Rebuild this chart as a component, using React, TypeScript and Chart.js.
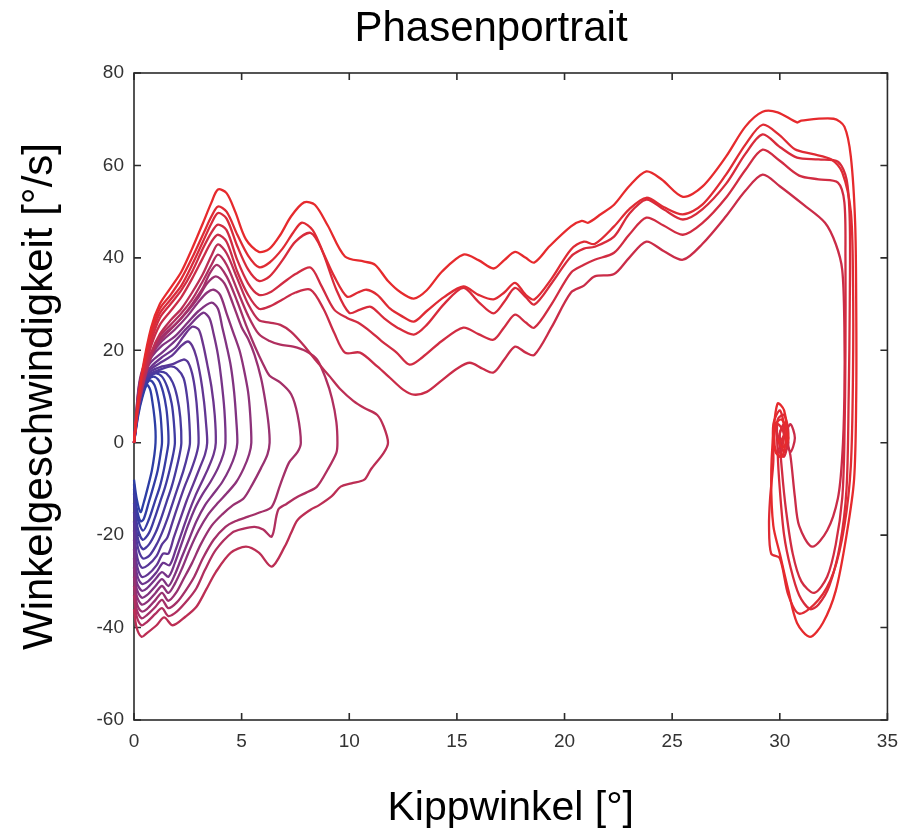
import { useEffect, useRef } from 'react';
import { Chart, registerables } from 'chart.js';

Chart.register(...registerables);

type Pt = [number, number];

const chartTitle = 'Phasenportrait';
const xAxisLabel = 'Kippwinkel [°]';
const yAxisLabel = 'Winkelgeschwindigkeit [°/s]';
const xTickValues = [0, 5, 10, 15, 20, 25, 30, 35];
const yTickValues = [-60, -40, -20, 0, 20, 40, 60, 80];

// Large swings reaching ~33°, settling near 30°
const swingA: Pt[] = [
  [0, 0], [0.15, 7.5], [0.4, 16], [0.8, 25], [1.2, 30], [1.7, 33.5], [2.2, 37], [2.7, 42], [3.2, 47.5], [3.6, 52], [3.9, 54.8],
  [4.3, 54], [4.7, 50], [5.2, 44], [5.8, 41.3], [6.3, 42], [6.8, 45], [7.3, 49], [7.9, 52], [8.4, 51.5], [9.0, 47], [9.8, 40.3],
  [10.7, 39.2], [11.2, 38.5], [11.8, 35], [12.4, 32.5], [13.0, 31.2], [13.6, 33], [14.3, 37], [15.3, 40.7], [16.0, 39.5],
  [16.7, 37.7], [17.2, 39.5], [17.7, 41.3], [18.2, 40], [18.6, 39], [19.3, 42.5], [20.3, 46.8], [20.8, 48], [21.1, 47.6],
  [21.7, 49.5], [22.3, 51.5], [23.0, 55.5], [23.8, 58.7], [24.5, 57], [25.5, 53.2], [26.4, 55.4], [27.5, 61.9], [28.4, 68.4],
  [29.2, 71.6], [29.9, 71.5], [30.8, 69.3], [31.0, 69.7], [32.5, 70.1], [33.0, 68.4], [33.3, 61.9], [33.5, 47.6], [33.55, 30],
  [33.55, 10], [33.45, -8], [33.1, -20], [32.6, -32], [32.0, -39], [31.4, -42], [30.8, -39], [30.4, -32], [30.0, -24],
  [29.7, -18], [29.6, -8], [29.7, 2], [29.9, 8.5], [30.2, 7], [30.3, 2], [30.1, -3], [29.8, -2], [29.8, 4], [30.1, 5],
  [30.4, 1], [30.1, -1], [29.9, 1],
];
const swingB: Pt[] = [
  [0, 0], [0.15, 7.3], [0.4, 15.5], [0.8, 24], [1.2, 29], [1.7, 32], [2.2, 35.5], [2.7, 40], [3.2, 45], [3.6, 49], [3.9, 51.1],
  [4.3, 50], [4.8, 45], [5.3, 40.5], [5.8, 38], [6.3, 39], [6.9, 42], [7.4, 45.5], [7.8, 47.6], [8.3, 46], [8.8, 41], [9.3, 36],
  [9.9, 31.6], [10.4, 32.5], [10.8, 33.1], [11.3, 32], [11.9, 29], [12.4, 27.5], [13.0, 26.2], [13.6, 28.5], [14.4, 31.5],
  [15.3, 33.8], [16.0, 32], [16.7, 31], [17.2, 32.5], [17.7, 34.6], [18.2, 32], [18.6, 31], [19.4, 35.5], [20.3, 41.8],
  [20.9, 43.5], [21.4, 43], [22.3, 46.8], [23.0, 50.5], [23.8, 53], [24.6, 51], [25.5, 49.4], [26.4, 51.5], [27.5, 58],
  [28.4, 64.5], [29.2, 68.8], [30.0, 66.5], [30.7, 63.5], [31.5, 62.5], [32.4, 61.3], [32.9, 58.5], [33.3, 50], [33.4, 35],
  [33.4, 15], [33.3, -5], [33.0, -18], [32.5, -28], [31.8, -34], [30.9, -37], [30.4, -33], [30.0, -25], [29.6, -24],
  [29.5, -18], [29.55, -12], [29.7, -4], [29.7, 4], [30.0, 7], [30.2, 3], [30.0, -3], [29.7, 0], [29.9, 4], [30.2, 2], [30.0, 0],
];
const swingC: Pt[] = [
  [0, 0], [0.15, 7.1], [0.4, 15], [0.8, 23], [1.2, 28], [1.7, 31], [2.2, 34], [2.7, 38.5], [3.2, 43.5], [3.6, 47.5], [3.9, 49.7],
  [4.3, 48.5], [4.8, 42.5], [5.3, 37.5], [5.8, 35], [6.3, 36], [6.9, 39.5], [7.5, 43.5], [8.2, 45.4], [8.7, 42], [9.4, 33.1],
  [10.0, 28.1], [10.5, 28.8], [11.0, 29.4], [11.6, 27], [12.2, 25], [13.0, 23.4], [13.6, 25.5], [14.4, 30], [15.3, 33.5],
  [16.0, 30.5], [16.7, 28], [17.2, 30.5], [17.7, 33.5], [18.2, 31.5], [18.6, 29.9], [19.4, 34.5], [20.3, 40.3], [20.9, 42],
  [21.4, 42.4], [22.3, 44.6], [23.0, 49.5], [23.8, 52.6], [24.6, 50.5], [25.5, 48.3], [26.4, 50.5], [27.5, 56], [28.4, 62.5],
  [29.2, 66.7], [30.0, 64], [30.8, 61.7], [31.8, 61.3], [32.7, 60.8], [33.1, 57], [33.25, 48], [33.25, 30], [33.2, 10],
  [33.1, -10], [32.8, -22], [32.3, -31], [31.8, -35], [31.4, -36], [30.9, -33], [30.5, -27], [30.2, -20], [30.0, -10],
  [29.9, -2], [29.9, 5], [30.2, 6], [30.4, 2], [30.2, -3], [29.9, -1], [30.1, 3], [30.3, 0],
];
const swingD: Pt[] = [
  [0, 0], [0.15, 7], [0.4, 14.5], [0.8, 22], [1.2, 27], [1.7, 30], [2.2, 33], [2.7, 37], [3.2, 42], [3.6, 45.5], [3.9, 47.2],
  [4.3, 46], [4.8, 39.5], [5.3, 34.5], [5.8, 32], [6.3, 32.5], [6.9, 34.5], [7.5, 36.5], [8.2, 37.9], [8.7, 34], [9.3, 28.8],
  [9.9, 27], [10.4, 26], [11.0, 24], [11.5, 22], [12.2, 19.5], [12.8, 16.9], [13.4, 18.5], [14.3, 22], [15.3, 24.9],
  [16.0, 23.5], [16.7, 22.3], [17.2, 25], [17.7, 27.7], [18.2, 26], [18.6, 24.9], [19.4, 30], [20.3, 36.8], [20.9, 38.5],
  [21.4, 39.6], [22.3, 41.1], [23.0, 45], [23.8, 48.7], [24.6, 47], [25.5, 45], [26.4, 47.5], [27.5, 53], [28.4, 59],
  [29.2, 63.4], [30.0, 61], [30.9, 57.8], [31.8, 57], [32.7, 56.3], [33.0, 52], [33.05, 40], [33.05, 20], [33.0, 0],
  [32.9, -12], [32.6, -22], [32.2, -29], [31.6, -32.5], [31.0, -30], [30.6, -24], [30.3, -15], [30.1, -6], [30.0, 2],
  [30.2, 4], [30.4, 0], [30.2, -2], [30.0, 1],
];
const swingE: Pt[] = [
  [0, 0], [0.15, 6.8], [0.4, 14], [0.8, 21], [1.2, 25.5], [1.7, 28.5], [2.2, 31.5], [2.7, 35.5], [3.2, 40], [3.6, 43.5], [3.9, 45],
  [4.3, 43.5], [4.8, 37], [5.3, 32], [5.8, 29], [6.3, 29.5], [6.9, 31], [7.5, 32.5], [8.2, 33.1], [8.8, 29], [9.3, 23.8],
  [9.8, 19.5], [10.5, 19.5], [11.3, 16.5], [11.9, 14], [12.5, 11.5], [13.0, 10.4], [13.6, 11], [14.3, 13.5], [15.0, 16],
  [15.6, 17.3], [16.2, 16], [16.7, 15.2], [17.2, 18], [17.7, 20.8], [18.2, 19.5], [18.6, 19], [19.4, 25], [20.3, 32.5],
  [20.9, 34], [21.4, 36], [22.3, 36.5], [23.0, 40], [23.8, 43.5], [24.6, 41.5], [25.5, 39.6], [26.4, 43], [27.5, 49],
  [28.4, 54.5], [29.2, 58], [30.0, 55.5], [31.1, 51.5], [32.1, 47.6], [32.6, 43], [32.9, 37.4], [33.0, 25], [33.0, 10],
  [32.9, -3], [32.7, -12], [32.2, -19], [31.5, -22.5], [30.9, -18], [30.7, -11.7], [30.5, -3], [30.3, 2], [30.5, 4],
  [30.7, 1], [30.5, -2], [30.3, 0],
];

// Small swings that return to 0°
const loop01: Pt[] = [
  [0, 0], [0.2, 6], [0.4, 10], [0.6, 12.5], [0.75, 11.5], [0.85, 9], [0.95, 5.5], [1.0, 2.5], [1.0, 0],
  [0.95, -2.5], [0.83, -6], [0.65, -9.5], [0.45, -13], [0.3, -15], [0.12, -12], [0, -8],
];
const loop02: Pt[] = [
  [0, 0], [0.2, 6.5], [0.4, 10.5], [0.6, 12.8], [0.75, 13.5], [0.95, 12.5], [1.1, 10], [1.22, 6.5], [1.28, 3], [1.3, 0],
  [1.23, -2.5], [1.1, -6], [0.9, -9.5], [0.68, -13], [0.45, -16.5], [0.3, -17], [0.12, -14], [0, -9],
];
const loop03: Pt[] = [
  [0, 0], [0.2, 7], [0.4, 11], [0.65, 13.5], [0.9, 14.3], [1.15, 13.5], [1.35, 11], [1.5, 7.5], [1.58, 3.5], [1.6, 0],
  [1.52, -2.5], [1.38, -6], [1.2, -9.5], [0.95, -13], [0.7, -16.5], [0.42, -19], [0.15, -16], [0, -10],
];
const loop04: Pt[] = [
  [0, 0], [0.2, 7], [0.4, 11.5], [0.7, 14], [1.0, 15], [1.3, 14.3], [1.55, 12], [1.75, 8.5], [1.85, 4.5], [1.9, 0],
  [1.82, -2.5], [1.65, -6], [1.45, -9.5], [1.2, -13], [0.95, -16.5], [0.7, -19.5], [0.4, -21], [0.15, -18], [0, -11],
];
const loop05: Pt[] = [
  [0, 0], [0.2, 7.5], [0.4, 12], [0.7, 14.3], [0.95, 15], [1.2, 15.4], [1.5, 15], [1.8, 13], [2.0, 10], [2.15, 5.5], [2.2, 0],
  [2.12, -2.5], [1.95, -6], [1.75, -9.5], [1.5, -13], [1.25, -16.5], [1.0, -19.5], [0.7, -22], [0.4, -23], [0.15, -20], [0, -13],
];
const loop06: Pt[] = [
  [0, 0], [0.2, 8], [0.4, 12.5], [0.8, 15], [1.2, 15.8], [1.7, 16.5], [2.0, 16], [2.3, 14], [2.45, 10.5], [2.55, 6], [2.6, 0],
  [2.5, -2.5], [2.3, -6], [2.05, -9.5], [1.8, -13], [1.55, -16.5], [1.3, -19.5], [1.05, -22], [0.7, -24.5], [0.4, -25],
  [0.15, -22], [0, -15],
];
const loop07: Pt[] = [
  [0, 0], [0.2, 8.5], [0.4, 13], [0.8, 15.5], [1.3, 16.5], [1.8, 17], [2.3, 18], [2.5, 17.5], [2.7, 15], [2.85, 11], [2.95, 6],
  [3.0, 0], [2.9, -2.5], [2.65, -6], [2.35, -9.5], [2.05, -13.5], [1.8, -17], [1.55, -20.5], [1.3, -22], [1.05, -24.5],
  [0.65, -26.5], [0.35, -27], [0.12, -24], [0, -17],
];
const loop08: Pt[] = [
  [0, 0], [0.2, 9], [0.4, 13.5], [0.8, 16], [1.3, 17.5], [1.8, 19], [2.2, 21], [2.5, 21.9], [2.7, 21], [2.9, 18.5], [3.1, 14],
  [3.25, 9], [3.35, 4], [3.4, 0], [3.3, -2.5], [3.05, -5.5], [2.75, -9], [2.45, -12.5], [2.15, -16.5], [1.85, -20.5],
  [1.6, -24], [1.35, -24], [1.05, -26.5], [0.65, -28.5], [0.35, -29], [0.12, -26], [0, -19],
];
const loop09: Pt[] = [
  [0, 0], [0.2, 9.5], [0.4, 14], [0.8, 16.5], [1.3, 18.5], [1.9, 20.5], [2.3, 23], [2.7, 25.1], [3.0, 24.5], [3.2, 21.5],
  [3.4, 17], [3.6, 12], [3.75, 6], [3.8, 0], [3.7, -2.5], [3.45, -5.5], [3.15, -8.5], [2.85, -11.5], [2.55, -15],
  [2.25, -19], [1.95, -23], [1.65, -26.5], [1.35, -26], [1.05, -28], [0.65, -30], [0.35, -30.5], [0.12, -28], [0, -21],
];
const loop10: Pt[] = [
  [0, 0], [0.2, 10], [0.4, 14.5], [0.8, 17.5], [1.3, 19.5], [1.9, 22], [2.5, 25], [3.2, 28.1], [3.5, 27], [3.7, 23.5],
  [3.9, 19], [4.05, 14], [4.2, 7], [4.25, 0], [4.15, -2.5], [3.9, -5.5], [3.55, -8.5], [3.2, -11], [2.85, -14], [2.5, -18],
  [2.2, -22], [1.9, -26], [1.6, -29], [1.3, -28], [1.0, -29.5], [0.6, -31.5], [0.35, -32], [0.12, -30], [0, -23],
];
const loop11: Pt[] = [
  [0, 0], [0.2, 10.5], [0.4, 15], [0.8, 18.5], [1.3, 21], [1.9, 23], [2.5, 26], [3.0, 28.5], [3.6, 30.3], [3.9, 29],
  [4.1, 25], [4.3, 21], [4.5, 16.5], [4.65, 11], [4.75, 5], [4.8, 0], [4.7, -2.5], [4.45, -5.5], [4.1, -8.5], [3.7, -11],
  [3.3, -13.5], [2.9, -17], [2.55, -21], [2.2, -25], [1.9, -28.5], [1.6, -31], [1.3, -29.5], [1.0, -31], [0.6, -33],
  [0.35, -33.5], [0.12, -31.5], [0, -25],
];
const loop12: Pt[] = [
  [0, 0], [0.2, 11], [0.4, 15.5], [0.8, 19], [1.3, 22], [1.9, 24.5], [2.5, 27.5], [3.0, 30.5], [3.4, 32.5], [3.7, 33.1],
  [4.0, 32], [4.3, 28], [4.6, 24], [4.9, 20], [5.1, 16], [5.3, 11], [5.4, 6], [5.45, 0], [5.35, -2.5], [5.1, -5.5],
  [4.75, -8.5], [4.3, -11], [3.9, -13], [3.45, -15.5], [3.0, -19], [2.6, -23], [2.25, -27], [1.9, -30.5], [1.6, -32.5],
  [1.3, -31], [1.0, -32.5], [0.6, -34.5], [0.35, -35], [0.12, -33], [0, -27],
];
const loop13: Pt[] = [
  [0, 0], [0.2, 11.5], [0.4, 16], [0.8, 19.5], [1.3, 23], [1.9, 25.5], [2.5, 28.5], [3.0, 31.5], [3.4, 34.5], [3.8, 36],
  [4.2, 34.5], [4.6, 30], [5.0, 25], [5.3, 22.5], [5.6, 19], [5.9, 14], [6.1, 9], [6.25, 4], [6.3, 0], [6.2, -2.5],
  [5.9, -5.5], [5.5, -9], [5.1, -12], [4.6, -13.5], [4.1, -15.5], [3.6, -18], [3.1, -22], [2.7, -26], [2.3, -29.5],
  [1.95, -32.5], [1.6, -34.2], [1.3, -32.5], [1.0, -34], [0.6, -36], [0.35, -36.5], [0.12, -34.5], [0, -29],
];
const loop14: Pt[] = [
  [0, 0], [0.15, 6], [0.4, 12], [0.8, 18.5], [1.2, 22], [1.7, 24.5], [2.2, 27], [2.7, 30], [3.2, 33.5], [3.5, 36.5],
  [3.85, 38.5], [4.3, 36], [4.8, 30.5], [5.2, 25.5], [5.6, 21], [6.0, 17], [6.3, 14.5], [6.8, 13], [7.3, 10.5], [7.6, 6],
  [7.75, 0], [7.6, -2], [7.2, -4.3], [6.8, -9], [6.4, -13.9], [5.9, -15], [5.3, -16], [4.7, -17], [4.25, -18.2], [3.7, -21],
  [3.2, -25], [2.8, -29], [2.4, -32], [2.0, -34.5], [1.6, -35.8], [1.3, -34], [1.0, -35.5], [0.6, -37.3], [0.35, -38],
  [0.12, -36], [0, -31],
];
const loop15: Pt[] = [
  [0, 0], [0.15, 6.3], [0.4, 12.5], [0.8, 19], [1.2, 23], [1.7, 25.5], [2.2, 28], [2.7, 31], [3.2, 35], [3.6, 38.5],
  [3.9, 40.7], [4.3, 38.5], [4.8, 33], [5.3, 27.5], [5.8, 23.5], [6.3, 22], [6.8, 21.2], [7.4, 20.8], [8.0, 19.8],
  [8.5, 18], [8.9, 14], [9.2, 9.5], [9.4, 4.5], [9.45, 0], [9.4, -2.2], [9.0, -5.8], [8.5, -9.5], [8.0, -10.8],
  [7.6, -11.7], [7.1, -13.2], [6.7, -14.5], [6.4, -20.3], [6.0, -18.8], [5.6, -18.2], [5.1, -18.6], [4.55, -19.5],
  [3.8, -23.2], [3.3, -27.5], [2.9, -31.5], [2.5, -34], [2.0, -36.5], [1.6, -37.5], [1.3, -35.8], [1.0, -37], [0.6, -38.8],
  [0.35, -39.5], [0.12, -37.5], [0, -33],
];
const loop16: Pt[] = [
  [0, 0], [0.15, 6.5], [0.4, 13], [0.8, 19.5], [1.2, 23.5], [1.7, 26.5], [2.2, 29], [2.7, 32.5], [3.2, 36.5], [3.6, 40.5],
  [3.9, 42.9], [4.3, 41], [4.8, 35.5], [5.3, 30], [5.8, 26.5], [6.3, 26], [6.8, 25.5], [7.3, 24], [7.9, 21], [8.5, 17.5],
  [9.1, 14.3], [9.6, 11.5], [10.2, 9], [10.7, 7.5], [11.3, 6], [11.6, 3.5], [11.8, 0], [11.6, -2.2], [11.0, -5.8],
  [10.7, -8], [10.1, -8.8], [9.6, -9.5], [9.2, -11.5], [8.6, -13.5], [8.2, -14.5], [7.6, -16.7], [7.3, -19.5], [7.0, -22.5],
  [6.4, -26.8], [5.8, -23.8], [5.2, -22.5], [4.5, -23.8], [3.8, -28], [3.35, -31.8], [2.9, -35.5], [2.4, -37.6],
  [1.8, -39.5], [1.4, -37.8], [1.05, -39.5], [0.6, -41.2], [0.35, -42], [0.12, -40], [0, -36],
];

// inner (blue) to outer (red)
const curves: Pt[][] = [
  loop01, loop02, loop03, loop04, loop05, loop06, loop07, loop08,
  loop09, loop10, loop11, loop12, loop13, loop14, loop15, loop16,
  swingE, swingD, swingC, swingB, swingA,
];

function shade(k: number, n: number): string {
  const nLoops = 16;
  let t: number;
  if (k < nLoops) t = (k / (nLoops - 1)) * 0.82;
  else t = 0.88 + ((k - nLoops) / (n - nLoops - 1)) * 0.12;
  const r = Math.round(45 + 185 * Math.pow(t, 1.3));
  const g = Math.round(62 - 20 * t);
  const b = Math.round(165 - 120 * t * t);
  return `rgb(${r},${g},${b})`;
}

const FONT = '"Liberation Sans", Arial, Helvetica, sans-serif';

const framePlugin = {
  id: 'matlabFrame',
  beforeDatasetsDraw(chart: any) {
    const { ctx, chartArea, scales } = chart;
    const { left, right, top, bottom } = chartArea;
    ctx.save();
    ctx.strokeStyle = '#2b2b2b';
    ctx.lineWidth = 1.6;
    ctx.strokeRect(left, top, right - left, bottom - top);
    const tl = 7;
    ctx.beginPath();
    scales.x.ticks.forEach((t: any) => {
      const px = scales.x.getPixelForValue(t.value);
      ctx.moveTo(px, bottom);
      ctx.lineTo(px, bottom - tl);
      ctx.moveTo(px, top);
      ctx.lineTo(px, top + tl);
    });
    scales.y.ticks.forEach((t: any) => {
      const py = scales.y.getPixelForValue(t.value);
      ctx.moveTo(left, py);
      ctx.lineTo(left + tl, py);
      ctx.moveTo(right, py);
      ctx.lineTo(right - tl, py);
    });
    ctx.stroke();
    ctx.restore();
  },
  afterDraw(chart: any) {
    const { ctx } = chart;
    ctx.save();
    ctx.fillStyle = '#000';
    ctx.font = `42px ${FONT}`;
    ctx.textAlign = 'center';
    ctx.textBaseline = 'middle';
    ctx.fillText(chartTitle, 483, 21);
    ctx.restore();
  },
};

export default function App() {
  const ref = useRef<HTMLCanvasElement | null>(null);
  useEffect(() => {
    if (!ref.current) return;
    const n = curves.length;
    const datasets = curves
      .map((c, k) => ({
        data: c.map(([x, y]) => ({ x, y })),
        borderColor: shade(k, n),
        backgroundColor: shade(k, n),
        borderWidth: 2.3,
        pointRadius: 0,
        showLine: true,
        fill: false,
        tension: 0.3,
        clip: false as any,
      }))
      .reverse();
    const chart = new Chart(ref.current, {
      type: 'scatter',
      data: { datasets },
      options: {
        responsive: false,
        animation: false,
        events: [],
        layout: { padding: { top: 65, right: 11, left: 0, bottom: 0 } },
        plugins: { legend: { display: false }, tooltip: { enabled: false }, title: { display: false } },
        scales: {
          x: {
            type: 'linear',
            min: 0,
            max: 35,
            grid: { display: false, drawTicks: false },
            border: { display: false },
            afterBuildTicks: (s: any) => {
              s.ticks = xTickValues.map((v) => ({ value: v }));
            },
            afterFit: (s: any) => {
              s.height = 109;
            },
            ticks: { padding: 10, color: '#333', font: { family: FONT, size: 19 } },
            title: {
              display: true,
              text: xAxisLabel,
              color: '#000',
              font: { family: FONT, size: 41, lineHeight: 1 },
              padding: { top: 0, bottom: 0 },
            },
          },
          y: {
            type: 'linear',
            min: -60,
            max: 80,
            grid: { display: false, drawTicks: false },
            border: { display: false },
            afterBuildTicks: (s: any) => {
              s.ticks = yTickValues.map((v) => ({ value: v }));
            },
            afterFit: (s: any) => {
              s.width = 126;
            },
            ticks: { padding: 10, color: '#333', font: { family: FONT, size: 19 } },
            title: {
              display: true,
              text: yAxisLabel,
              color: '#000',
              font: { family: FONT, size: 42, lineHeight: 1 },
              padding: { top: 11, bottom: 0 },
            },
          },
        },
      },
      plugins: [framePlugin],
    });
    return () => chart.destroy();
  }, []);
  return <canvas ref={ref} width={900} height={821} style={{ display: 'block' }} />;
}
